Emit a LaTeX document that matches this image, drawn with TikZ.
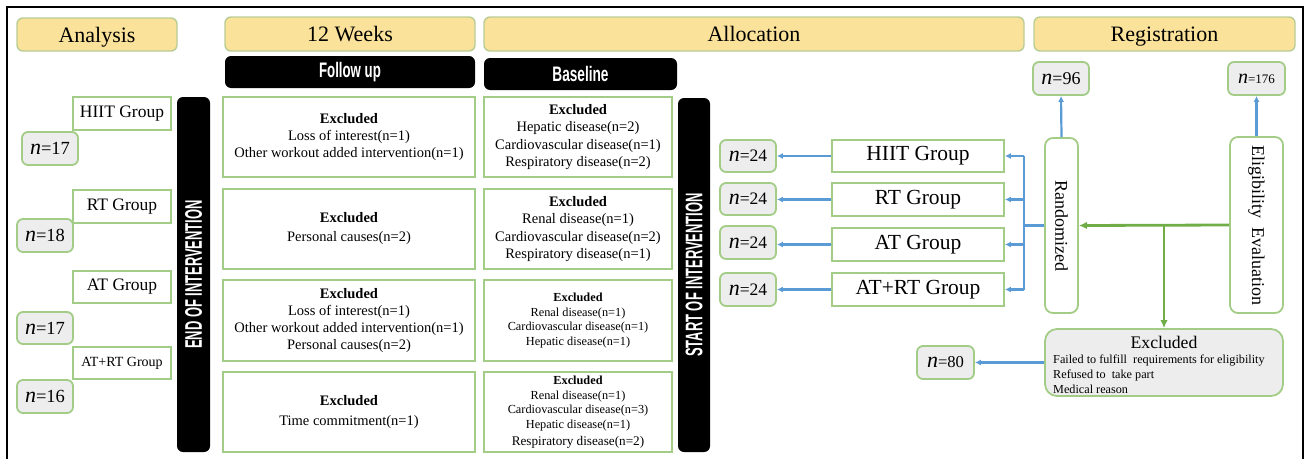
\documentclass[tikz,border=0pt]{standalone}
\usepackage{fontspec}
\usepackage{graphicx}
\setmainfont{Liberation Serif}
\newfontfamily\condfont{Liberation Sans}
\usetikzlibrary{arrows.meta}
\definecolor{hdrY}{HTML}{FBE29A}
\definecolor{bGreen}{HTML}{A3CD86}
\definecolor{hGreen}{HTML}{B9CC94}
\definecolor{arrBlue}{HTML}{5B9BD5}
\definecolor{arrGreen}{HTML}{70AD47}
\definecolor{nGray}{HTML}{EDEDED}
\newcommand\fsz[2]{\fontsize{#1}{#2}\selectfont}
\newcommand\nn[3]{{\fsz{#1}{#1}\itshape n}{\fsz{#2}{#2}=#3}}
\newcommand\cond[3]{{\condfont\bfseries\fsz{#1}{#1}\scalebox{#2}[1]{#3}}}
\newcommand\mybox[7]{\node[#1, minimum width={#5-#3}, minimum height={#6-#4}] (#2) at ({(#3+#5)/2},{(#4+#6)/2}) {#7};}
\tikzset{
  hdr/.style={draw=hGreen, fill=hdrY, rounded corners=6pt, line width=1.4pt, inner sep=0pt, font=\fsz{22}{26}, text height=15pt, text depth=0pt},
  blk/.style={fill=black, rounded corners=6pt, text=white, inner sep=0pt},
  grp/.style={draw=bGreen, fill=white, line width=1.8pt, inner sep=0pt},
  nbox/.style={draw=bGreen, fill=nGray, rounded corners=6pt, line width=1.8pt, inner sep=0pt},
  exbox/.style={draw=bGreen, fill=white, line width=1.8pt, inner sep=0pt, align=center},
  barrow/.style={draw=arrBlue, line width=2.2pt, -{Latex[length=6pt,width=6pt]}},
  bline/.style={draw=arrBlue, line width=2.2pt},
  garrow/.style={draw=arrGreen, line width=2.8pt, -{Latex[length=8pt,width=7.5pt]}},
}
\begin{document}
\begin{tikzpicture}[x=1pt,y=-1pt]
\useasboundingbox (0,0) rectangle (1305,458);
\clip (0,0) rectangle (1305,458);
% outer frame
\draw[line width=2.4pt] (7,470) -- (7,7) -- (1303,7) -- (1303,470);
% headers
\mybox{hdr}{hA}{17}{18}{177}{51}{Analysis}
\mybox{hdr}{hW}{225}{17}{475}{51}{12 Weeks}
\mybox{hdr}{hAl}{484}{17}{1024}{51}{Allocation}
\mybox{hdr}{hR}{1034}{17}{1295}{51}{Registration}
% black headers
\mybox{blk}{fu}{225}{56}{475}{88}{\cond{21}{0.63}{Follow up}}
\mybox{blk}{bl}{484}{58}{677}{90}{\cond{21}{0.65}{Baseline}}
% vertical bars
\node[blk, rotate=90, minimum width=355, minimum height=33] (endI) at (193.5,274.5) {\cond{24}{0.54}{END OF INTERVENTION}};
\node[blk, rotate=90, minimum width=354, minimum height=32] (startI) at (694,275) {\cond{24}{0.54}{START OF INTERVENTION}};
% analysis column
\mybox{grp, font=\fsz{17.5}{20}}{gA1}{73}{97}{171}{130}{HIIT Group}
\mybox{nbox}{nA1}{22}{132}{78}{165}{\nn{22}{18.5}{17}}
\mybox{grp, font=\fsz{17.5}{20}}{gA2}{73}{190}{171}{223}{RT Group}
\mybox{nbox}{nA2}{17}{219}{73}{252}{\nn{22}{18.5}{18}}
\mybox{grp, font=\fsz{17.5}{20}}{gA3}{73}{271}{171}{303}{AT Group}
\mybox{nbox}{nA3}{17}{312}{73}{344}{\nn{22}{18.5}{17}}
\mybox{grp, font=\fsz{14}{16}}{gA4}{73}{347}{171}{379}{AT+RT Group}
\mybox{nbox}{nA4}{17}{380}{73}{413}{\nn{22}{18.5}{16}}
% follow-up exclusions
\mybox{exbox, font=\fsz{14.5}{17}}{fu1}{223}{97}{475}{177}{\textbf{Excluded}\\Loss of interest(n=1)\\Other workout added intervention(n=1)}
\mybox{exbox, font=\fsz{14.5}{19}}{fu2}{223}{189}{475}{269}{\textbf{Excluded}\\Personal causes(n=2)}
\mybox{exbox, font=\fsz{14.5}{17}}{fu3}{223}{280}{475}{361}{\textbf{Excluded}\\Loss of interest(n=1)\\Other workout added intervention(n=1)\\Personal causes(n=2)}
\mybox{exbox, font=\fsz{14.5}{20}}{fu4}{223}{372}{475}{452}{\textbf{Excluded}\\Time commitment(n=1)}
% baseline exclusions
\mybox{exbox, font=\fsz{14.5}{17.5}}{bl1}{484}{97}{672}{177}{\textbf{Excluded}\\Hepatic disease(n=2)\\Cardiovascular disease(n=1)\\Respiratory disease(n=2)}
\mybox{exbox, font=\fsz{14.5}{17.5}}{bl2}{484}{189}{672}{269}{\textbf{Excluded}\\Renal disease(n=1)\\Cardiovascular disease(n=2)\\Respiratory disease(n=1)}
\mybox{exbox, font=\fsz{12.3}{14.8}}{bl3}{484}{280}{672}{361}{\textbf{Excluded}\\Renal disease(n=1)\\Cardiovascular disease(n=1)\\Hepatic disease(n=1)}
\mybox{exbox, font=\fsz{12.3}{14.6}}{bl4}{484}{372}{672}{452}{\textbf{Excluded}\\Renal disease(n=1)\\Cardiovascular disease(n=3)\\Hepatic disease(n=1)\\[2pt]{\fsz{13.2}{15}Respiratory disease(n=2)}}
% allocation
\mybox{nbox}{n1}{720}{140}{776}{172}{\nn{22}{17.5}{24}}
\mybox{nbox}{n2}{720}{183}{776}{215}{\nn{22}{17.5}{24}}
\mybox{nbox}{n3}{720}{226}{776}{259}{\nn{22}{17.5}{24}}
\mybox{nbox}{n4}{720}{273}{776}{306}{\nn{22}{17.5}{24}}
\mybox{grp, font=\fsz{21.5}{24}}{g1}{832}{140}{1004}{172}{HIIT Group}
\mybox{grp, font=\fsz{21.5}{24}}{g2}{832}{183}{1004}{216}{RT Group}
\mybox{grp, font=\fsz{21.5}{24}}{g3}{832}{228}{1004}{261}{AT Group}
\mybox{grp, font=\fsz{21.5}{24}}{g4}{832}{273}{1004}{306}{AT+RT Group}
% registration
\node[grp, rounded corners=8pt, rotate=-90, minimum width=175, minimum height=33, font=\fsz{18}{20}] (rand) at (1061.5,225.5) {Randomized};
\node[grp, rounded corners=8pt, rotate=-90, minimum width=176, minimum height=53, font=\fsz{18}{20}] (elig) at (1256.5,225) {Eligibility\ \ Evaluation};
\mybox{nbox}{n96}{1033}{62}{1089}{95}{\nn{22}{18}{96}}
\mybox{nbox}{n176}{1228}{62}{1285}{95}{\nn{20}{13}{176}}
\mybox{nbox, rounded corners=12pt}{excl}{1045}{329}{1283}{396}{}
\node[anchor=base, inner sep=0pt, font=\fsz{17.7}{20}] (exT) at (1164,348) {Excluded};
\node[anchor=north west, inner sep=0pt, align=left, font=\fsz{12.2}{15}] (exL) at (1053,355) {Failed to fulfill\ \ requirements for eligibility\\Refused to\ \ take part\\Medical reason};
\mybox{nbox}{n80}{917}{346}{974}{379}{\nn{22}{16.6}{80}}
% connectors
\foreach \g/\n in {g1/n1,g2/n2,g3/n3,g4/n4}{\draw[barrow] (\g.west) -- (\n.east|-\g.west);}
\coordinate (bus) at (1024,225.5);
\draw[bline] (rand.south) -- (bus);
\draw[bline] (bus|-g1.east) -- (bus|-g4.east);
\foreach \g in {g1,g2,g3,g4}{\draw[barrow] (bus|-\g.east) -- (\g.east);}
\draw[barrow] (rand.west) -- (n96.south);
\draw[barrow] (elig.west) -- (n176.south);
\draw[garrow] (elig.south) -- (rand.north);
\draw[garrow] (excl.north|-elig.south) -- (excl.north);
\draw[barrow] (excl.west) -- (n80.east);
\end{tikzpicture}
\end{document}
